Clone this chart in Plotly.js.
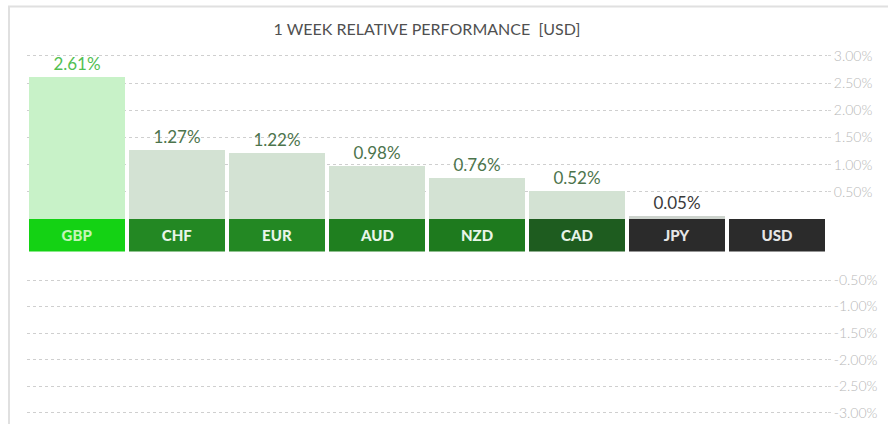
<!DOCTYPE html>
<html>
<head>
<meta charset="utf-8">
<script src="https://cdn.plot.ly/plotly-3.0.1.min.js"></script>
<style>html,body{margin:0;padding:0;background:#fff;}#chart{width:888px;height:424px;}</style>
</head>
<body>
<div id="chart"></div>
<script>
// ---- data ----
var currencies = ['GBP', 'CHF', 'EUR', 'AUD', 'NZD', 'CAD', 'JPY', 'USD'];
var performance = [2.61, 1.27, 1.22, 0.98, 0.76, 0.52, 0.05, 0];
var upperTicks = [0.5, 1.0, 1.5, 2.0, 2.5, 3.0];
var lowerTicks = [-0.5, -1.0, -1.5, -2.0, -2.5, -3.0];
var chartTitle = '1 WEEK RELATIVE PERFORMANCE\u00a0 [USD]';

// ---- styles ----
var barColors = ['#c8f2c8', '#d3e2d3', '#d3e2d3', '#d3e2d3', '#d3e2d3', '#d3e2d3', '#cdd3cd', '#d3e2d3'];
var valueTextColors = ['#52c052', '#4c744c', '#4c744c', '#4c744c', '#4c744c', '#4c744c', '#3a3a3a', '#3a3a3a'];
var bandColors = ['#14d214', '#238823', '#238823', '#1f7f1f', '#1e7a1e', '#1e5c1f', '#2b2b2b', '#2b2b2b'];
var bandTextColors = ['#c4f5b8', '#e8f5e8', '#e8f5e8', '#e8f5e8', '#e8f5e8', '#e8f5e8', '#e6e6e6', '#e6e6e6'];

var H = 424;
function py(pixel) { return 1 - pixel / H; }
function pct(v) { return v.toFixed(2) + '%'; }

var traces = [
  {
    type: 'bar', x: currencies, y: performance.map(function (v) { return Math.max(v, 0); }),
    xaxis: 'x', yaxis: 'y',
    marker: { color: barColors, line: { width: 0 } },
    width: 0.965,
    text: performance.map(function (v) { return v === 0 ? '' : pct(v); }),
    textposition: 'outside',
    textfont: { family: 'Lato, sans-serif', size: 17, color: valueTextColors },
    cliponaxis: false,
    hoverinfo: 'skip'
  },
  {
    type: 'bar', x: currencies, y: performance.map(function (v) { return Math.min(v, 0); }),
    xaxis: 'x', yaxis: 'y2',
    marker: { color: barColors }, width: 0.965, hoverinfo: 'skip'
  },
  {
    type: 'bar', x: currencies, y: currencies.map(function () { return 1; }),
    xaxis: 'x', yaxis: 'y3',
    marker: { color: bandColors, line: { width: 0 } },
    width: 0.965,
    text: currencies,
    textposition: 'inside',
    insidetextanchor: 'middle',
    textangle: 0,
    textfont: { family: 'Lato, sans-serif', size: 15, weight: 900, color: bandTextColors },
    hoverinfo: 'skip'
  }
];

var gridStyle = {
  side: 'right', anchor: 'x',
  showgrid: true, gridcolor: '#cfcfcf', griddash: '3px,3px', gridwidth: 1,
  zeroline: false, showline: false,
  ticks: 'outside', ticklen: 3, tickcolor: '#d6d6d6',
  tickfont: { family: 'Lato, sans-serif', size: 14, weight: 300, color: '#b8b8b8' },
  tickmode: 'array',
  fixedrange: true
};

var layout = {
  width: 888, height: 424,
  margin: { l: 27, r: 61, t: 0, b: 0, pad: 0 },
  paper_bgcolor: '#ffffff', plot_bgcolor: 'rgba(0,0,0,0)',
  showlegend: false,
  bargap: 0,
  title: {
    text: chartTitle, x: 0.5, xref: 'paper', xanchor: 'center',
    y: py(29), yref: 'container', yanchor: 'middle',
    font: { family: 'Lato, sans-serif', size: 16, color: '#505050' }
  },
  xaxis: {
    domain: [0, 1], range: [-0.5, 7.5], anchor: 'y3',
    showgrid: false, zeroline: false, showline: false, showticklabels: false, ticks: '',
    fixedrange: true
  },
  yaxis: Object.assign({}, gridStyle, {
    domain: [py(219), py(45)], range: [0, 3.2],
    tickvals: upperTicks, ticktext: upperTicks.map(pct)
  }),
  yaxis2: Object.assign({}, gridStyle, {
    domain: [py(418), py(253.5)], range: [-3.1, 0],
    tickvals: lowerTicks, ticktext: lowerTicks.map(pct)
  }),
  yaxis3: {
    domain: [py(251.5), py(219)], range: [0, 1], anchor: 'x',
    showgrid: false, zeroline: false, showline: false, showticklabels: false, ticks: '',
    fixedrange: true
  },
  shapes: [
    { type: 'line', xref: 'paper', yref: 'paper', x0: (8 - 27) / 800, x1: (888 - 27) / 800, y0: py(6.5), y1: py(6.5),
      line: { color: '#e0e0e0', width: 2 } },
    { type: 'line', xref: 'paper', yref: 'paper', x0: (9 - 27) / 800, x1: (9 - 27) / 800, y0: py(6.5), y1: 0,
      line: { color: '#e0e0e0', width: 2 } }
  ]
};

Plotly.newPlot('chart', traces, layout, { displayModeBar: false, staticPlot: true });
</script>
</body>
</html>
